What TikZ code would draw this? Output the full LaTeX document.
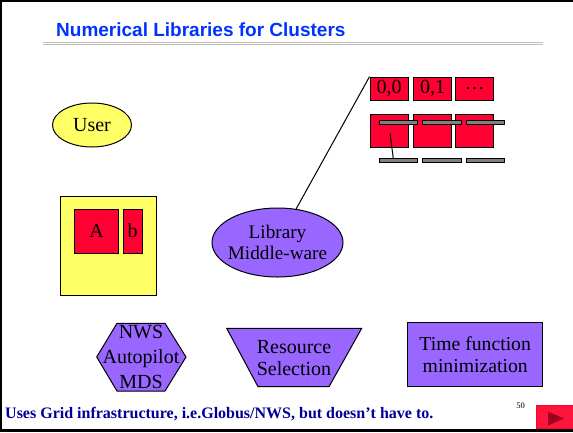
\documentclass[tikz,border=0pt]{standalone}
\usepackage{fontspec}
\setmainfont{Liberation Serif}
\newfontfamily\headfont{Liberation Sans}
\usetikzlibrary{shapes.geometric}
\definecolor{slideblue}{RGB}{0,51,255}
\definecolor{footblue}{RGB}{0,0,153}
\definecolor{cellred}{RGB}{255,0,51}
\definecolor{noteyellow}{RGB}{255,255,102}
\definecolor{mwpurple}{RGB}{153,102,255}
\definecolor{busgray}{RGB}{128,128,128}
\definecolor{rulegray}{RGB}{190,190,190}
\definecolor{btnred}{RGB}{255,20,60}
\definecolor{btndark}{RGB}{160,0,30}
\tikzset{
  x=1pt, y=-1pt,
  body/.style={font=\fontsize{20}{21}\selectfont, align=center, inner sep=0pt},
  cell/.style={draw=black, line width=0.9pt, fill=cellred, minimum width=38pt, minimum height=23pt, inner sep=0pt, font=\fontsize{20}{21}\selectfont},
  bus/.style={draw=black, line width=0.8pt, fill=busgray},
  shapeline/.style={draw=black, line width=1pt},
}
\begin{document}
\begin{tikzpicture}
\useasboundingbox (0,0) rectangle (573,432);
\fill[white] (0,0) rectangle (573,432);
% slide frame
\fill[black] (0,0) rectangle (573,2);
\fill[black] (0,0) rectangle (2.3,432);
\fill[black] (0,428.5) rectangle (573,432);

% title and its double rule
\node[anchor=base west, inner sep=0pt, text=slideblue, font=\headfont\bfseries\fontsize{19}{20}\selectfont] (title) at (56,36.7) {Numerical Libraries for Clusters};
\draw[rulegray, line width=0.8pt] (42.7,42.3) -- (542.7,42.3);
\draw[rulegray, line width=0.8pt] (42.7,44.6) -- (542.7,44.6);

% user
\node[ellipse, shapeline, fill=noteyellow, minimum width=79pt, minimum height=44pt, inner sep=0pt,
      label={[body]center:User}] (user) at (92,125) {};

% matrix A and vector b on the user's side
\node[shapeline, fill=noteyellow, minimum width=96pt, minimum height=99pt, inner sep=0pt] (data) at (108.5,245.5) {};
\node[shapeline, fill=cellred, minimum width=44pt, minimum height=44pt, body] (matA) at (96.7,231) {A};
\node[shapeline, fill=cellred, minimum width=18.7pt, minimum height=44pt, body] (vecb) at (132.7,231) {b};

% library middleware
\node[ellipse, shapeline, fill=mwpurple, minimum width=131pt, minimum height=69pt, inner sep=0pt,
      label={[body, font=\fontsize{19.2}{21}\selectfont]center:Library\\Middle-ware}] (lib) at (277.5,242.5) {};

% cluster processor grid
\node[cell] (g00) at (389,88.5) {0,0};
\node[cell] (g01) at (432.5,88.5) {0,1};
\node[cell] (g02) at (474.5,88.5) {\ldots};
\node[cell, minimum height=33.4pt] (g10) at (389,131) {};
\node[cell, minimum height=33.4pt] (g11) at (432.5,131) {};
\node[cell, minimum height=33.4pt] (g12) at (474.5,131) {};
% interconnect bars
\foreach \xa/\xb/\nm in {379/417.3/a, 422.3/461/b, 466/504.3/c} {
  \draw[bus] (\xa,120.2) rectangle (\xb,124.4);
  \draw[bus] (\xa,158.3) rectangle (\xb,162.4);
  \coordinate (bus\nm) at ({(\xa+\xb)/2},158.3);
}
\coordinate (tap) at (390,133.5);
\coordinate (busend) at (393.3,158.3);
\draw[line width=1pt] (tap) -- (busend);

% middleware reaches the cluster
\draw[line width=1pt] (lib) -- (g00.north west);

% services row
\draw[shapeline, fill=mwpurple] (96.7,357) -- (117,323.3) -- (165,323.3) -- (186,357) -- (165,391) -- (117,391) -- cycle;
\node[body, font=\fontsize{20}{25}\selectfont] (nws) at (141,357) {NWS\\Autopilot\\MDS};

\draw[shapeline, fill=mwpurple] (226.7,328.3) -- (361.7,328.3) -- (329,386.7) -- (258,386.7) -- cycle;
\node[body, font=\fontsize{20}{22}\selectfont] (sel) at (294,358) {Resource\\Selection};

\node[shapeline, fill=mwpurple, minimum width=135pt, minimum height=64pt, body, font=\fontsize{19.7}{21.5}\selectfont] (tmin) at (475.2,354.7) {Time function\\minimization};

% footer
\node[anchor=base west, inner sep=0pt, text=footblue, font=\bfseries\fontsize{16}{18}\selectfont] (foot) at (5,418.3) {Uses Grid infrastructure, i.e.Globus/NWS, but doesn’t have to.};
\node[inner sep=0pt, font=\fontsize{8.5}{9}\selectfont] (page) at (520.5,406) {50};

% next-slide button
\node[fill=btnred, draw=cellred, minimum width=37pt, minimum height=23pt, inner sep=0pt] (next) at (554.5,416.5) {};
\fill[btndark] (548,411.5) -- (564,418.5) -- (548,425.5) -- cycle;
\end{tikzpicture}
\end{document}
